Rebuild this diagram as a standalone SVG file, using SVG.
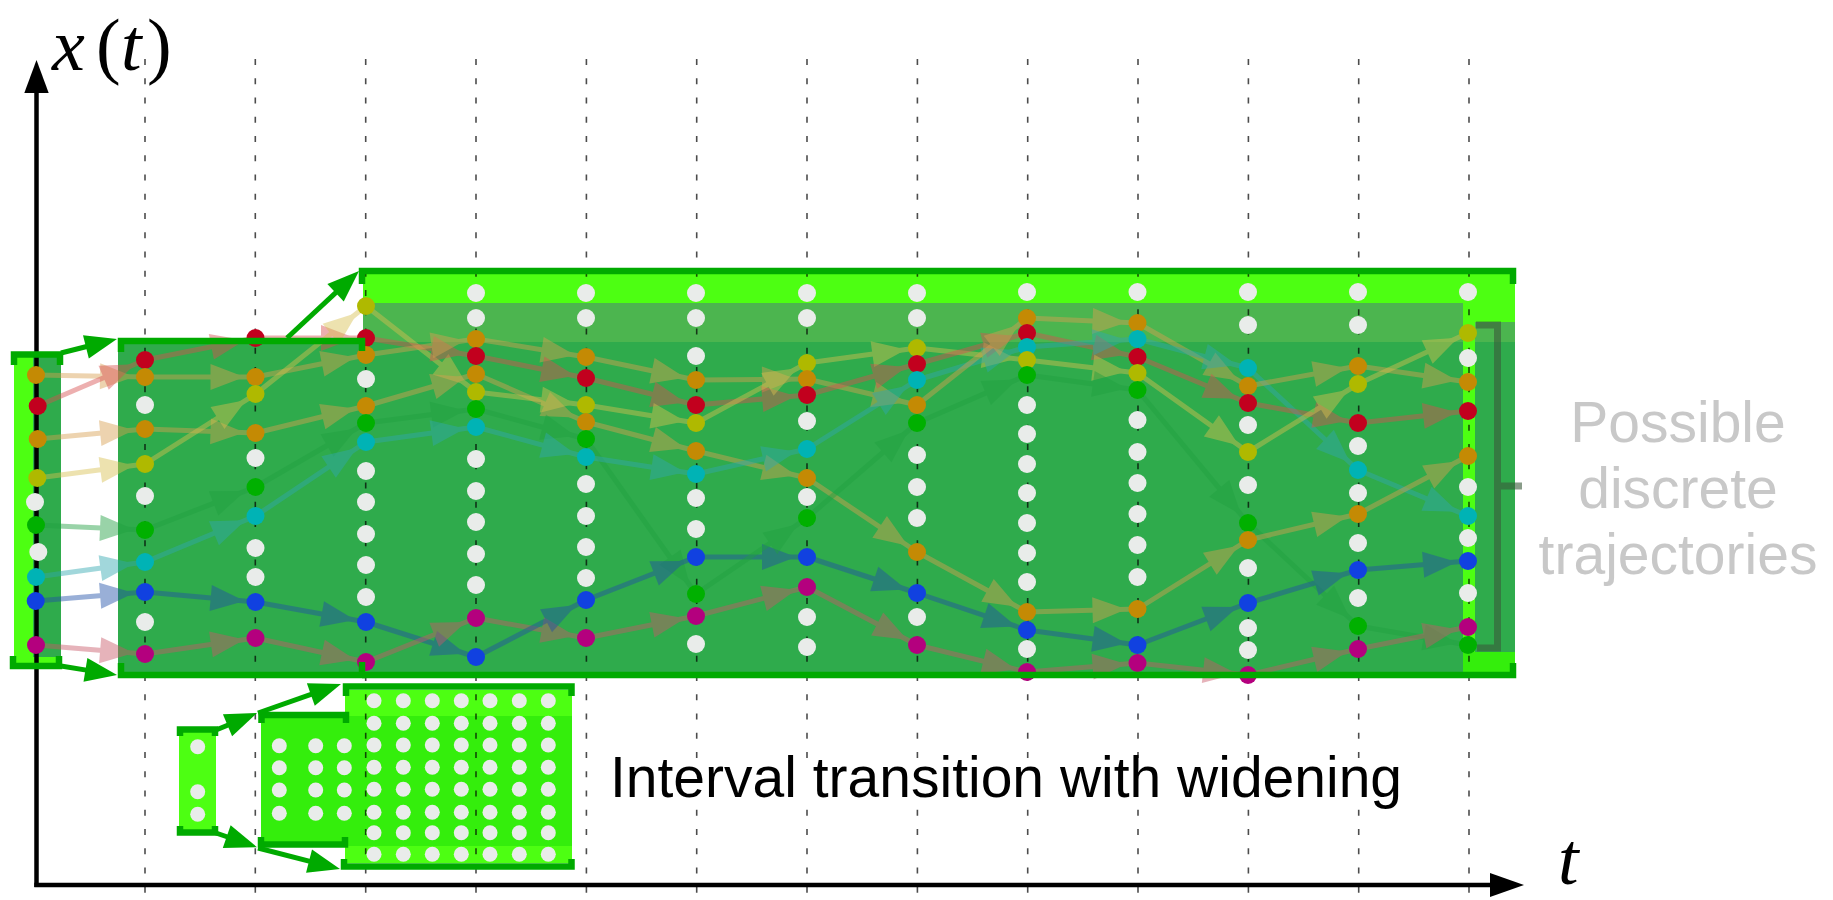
<svg xmlns="http://www.w3.org/2000/svg" width="1833" height="900" viewBox="0 0 1833 900">
<style>
.ln{stroke:#00aa00;fill:none;stroke-width:6.5;stroke-linejoin:miter;stroke-linecap:butt}
.grid line{stroke:#000;stroke-opacity:.7;stroke-width:1.6;stroke-dasharray:6 13.25}
.a{fill:none;stroke-width:5;opacity:.45}
.o{stroke:#d8a050;marker-end:url(#mo)}
.r{stroke:#d85050;marker-end:url(#mr)}
.y{stroke:#d8c050;marker-end:url(#my)}
.g{stroke:#20a040;marker-end:url(#mgr)}
.c{stroke:#30a8b0;marker-end:url(#mc)}
.b{stroke:#2050a8;marker-end:url(#mb)}
.m{stroke:#c85868;marker-end:url(#mm)}
.bx{stroke:#00aa00;stroke-width:5;fill:none;marker-end:url(#mg)}
.W{fill:#e9ecea}.O{fill:#c48a04}.R{fill:#c2001e}.Y{fill:#afb900}.G{fill:#00b000}.C{fill:#00b3b5}.B{fill:#1141e0}.M{fill:#b4007e}
.bright{fill:#4dff12}.mid{fill:#4cb54f}.dark{fill:#2fab4c}.lime{fill:#34ee0c}
.lab{font-family:"Liberation Sans",Arial,sans-serif;font-size:57px}
.math{font-family:"Liberation Serif","Times New Roman",serif;font-size:74px}
</style>
<defs>
<marker id="mo" markerUnits="userSpaceOnUse" markerWidth="34" markerHeight="26" refX="45" refY="13" orient="auto" overflow="visible"><path d="M0,0L34,13L0,26Z" fill="#d8a050"/></marker>
<marker id="mr" markerUnits="userSpaceOnUse" markerWidth="34" markerHeight="26" refX="45" refY="13" orient="auto" overflow="visible"><path d="M0,0L34,13L0,26Z" fill="#d85050"/></marker>
<marker id="my" markerUnits="userSpaceOnUse" markerWidth="34" markerHeight="26" refX="45" refY="13" orient="auto" overflow="visible"><path d="M0,0L34,13L0,26Z" fill="#d8c050"/></marker>
<marker id="mgr" markerUnits="userSpaceOnUse" markerWidth="34" markerHeight="26" refX="45" refY="13" orient="auto" overflow="visible"><path d="M0,0L34,13L0,26Z" fill="#20a040"/></marker>
<marker id="mc" markerUnits="userSpaceOnUse" markerWidth="34" markerHeight="26" refX="45" refY="13" orient="auto" overflow="visible"><path d="M0,0L34,13L0,26Z" fill="#30a8b0"/></marker>
<marker id="mb" markerUnits="userSpaceOnUse" markerWidth="34" markerHeight="26" refX="45" refY="13" orient="auto" overflow="visible"><path d="M0,0L34,13L0,26Z" fill="#2050a8"/></marker>
<marker id="mm" markerUnits="userSpaceOnUse" markerWidth="34" markerHeight="26" refX="45" refY="13" orient="auto" overflow="visible"><path d="M0,0L34,13L0,26Z" fill="#c85868"/></marker>
<marker id="mg" markerUnits="userSpaceOnUse" markerWidth="32" markerHeight="24" refX="4" refY="12" orient="auto" overflow="visible"><path d="M0,0L32,12L0,24Z" fill="#00aa00"/></marker>
</defs>
<rect width="1833" height="900" fill="#fff"/>

<!-- fills -->
<g id="interval-t0-fill">
<rect class="bright" x="14" y="357" width="47" height="306"/>
<rect class="dark" x="33" y="357" width="28" height="300"/>
</g>
<g id="interval-main-fill">
<rect class="bright" x="363" y="273" width="1152" height="399"/>
<rect class="mid" x="363" y="303" width="1100" height="39"/>
<rect class="dark" x="118" y="342" width="1345" height="330"/>
<rect class="mid" x="1475" y="322" width="40" height="20"/>
<rect class="dark" x="1475" y="342" width="40" height="310"/>
<rect class="lime" x="1463" y="652" width="52" height="20"/>
</g>
<g id="inset-fill">
<rect class="bright" x="179" y="731" width="37" height="100"/>
<rect class="bright" x="345" y="690" width="227" height="173"/>
<rect class="lime" x="261" y="716" width="311" height="130"/>
</g>

<!-- time grid -->
<g class="grid" id="grid">
<line x1="145" y1="59" x2="145" y2="900"/>
<line x1="255.3" y1="59" x2="255.3" y2="900"/>
<line x1="365.7" y1="59" x2="365.7" y2="900"/>
<line x1="476" y1="59" x2="476" y2="900"/>
<line x1="586.4" y1="59" x2="586.4" y2="900"/>
<line x1="696.7" y1="59" x2="696.7" y2="900"/>
<line x1="807" y1="59" x2="807" y2="900"/>
<line x1="917.4" y1="59" x2="917.4" y2="900"/>
<line x1="1027.7" y1="59" x2="1027.7" y2="900"/>
<line x1="1138" y1="59" x2="1138" y2="900"/>
<line x1="1248.4" y1="59" x2="1248.4" y2="900"/>
<line x1="1358.7" y1="59" x2="1358.7" y2="900"/>
<line x1="1469" y1="59" x2="1469" y2="900"/>
</g>

<!-- axes -->
<g id="axes">
<line x1="36.5" y1="887" x2="36.5" y2="90" stroke="#000" stroke-width="4.5"/>
<polygon points="36.5,60 24.3,93 48.7,93" fill="#000"/>
<line x1="34.3" y1="885" x2="1492" y2="885" stroke="#000" stroke-width="4.5"/>
<polygon points="1524,885 1490,873 1490,897" fill="#000"/>
<text class="math" y="70"><tspan x="52" font-style="italic">x</tspan><tspan x="96">(</tspan><tspan x="121" font-style="italic">t</tspan><tspan x="147">)</tspan></text>
<text class="math" x="1558" y="884" font-size="72" font-style="italic">t</text>
</g>

<g id="caption">
<rect x="604" y="759" width="804" height="47" fill="#fff"/>
<text class="lab" x="610" y="797" fill="#000">Interval transition with widening</text>
</g>

<!-- trajectory connectors -->
<g id="connectors">
<g id="trajectory-arrows">
<path class="a o" d="M36,375L145,377"/><path class="a r" d="M37.7,406L145,360"/><path class="a o" d="M37.7,439L145,429"/><path class="a y" d="M37.3,478L145,464"/><path class="a g" d="M36,525L145,530"/><path class="a c" d="M36,577L145,562"/><path class="a b" d="M35.7,601L145,592"/><path class="a m" d="M36,645L145,654"/>

<path class="a r" d="M145,360L255.5,338"/><path class="a o" d="M145,377L255.5,377"/><path class="a o" d="M145,429L255.5,433"/><path class="a y" d="M145,464L255.5,394"/><path class="a g" d="M145,530L255.5,487"/><path class="a c" d="M145,562L255.5,516"/><path class="a b" d="M145,592L255.5,602"/><path class="a m" d="M145,654L255.5,638"/>

<path class="a r" d="M255.5,338L366,338"/><path class="a o" d="M255.5,377L366,355"/><path class="a y" d="M255.5,394L366,306"/><path class="a o" d="M255.5,433L366,406"/><path class="a g" d="M255.5,487L366,423"/><path class="a c" d="M255.5,516L366,442"/><path class="a b" d="M255.5,602L366,622"/><path class="a m" d="M255.5,638L366,662"/>

<path class="a y" d="M366,306L476,392"/><path class="a r" d="M366,338L476,356"/><path class="a o" d="M366,355L476,339"/><path class="a o" d="M366,406L476,374"/><path class="a g" d="M366,423L476,409"/><path class="a c" d="M366,442L476,427"/><path class="a b" d="M366,622L476,657"/><path class="a m" d="M366,662L476,618"/>

<path class="a o" d="M476,339L586,357"/><path class="a r" d="M476,356L586,378"/><path class="a o" d="M476,374L586,422"/><path class="a y" d="M476,392L586,405"/><path class="a g" d="M476,409L586,439"/><path class="a c" d="M476,427L586,457"/><path class="a m" d="M476,618L586,638"/><path class="a b" d="M476,657L586,600"/>

<path class="a o" d="M586,357L696,380"/><path class="a r" d="M586,378L696,405"/><path class="a y" d="M586,405L696,423"/><path class="a o" d="M586,422L696,451"/><path class="a g" d="M586,439L696,594"/><path class="a c" d="M586,457L696,474"/><path class="a b" d="M586,600L696,557"/><path class="a m" d="M586,638L696,616"/>

<path class="a o" d="M696,380L807,379"/><path class="a r" d="M696,405L807,395"/><path class="a y" d="M696,423L807,363"/><path class="a o" d="M696,451L807,478"/><path class="a c" d="M696,474L807,449"/><path class="a b" d="M696,557L807,557"/><path class="a g" d="M696,594L807,518"/><path class="a m" d="M696,616L807,587"/>

<path class="a y" d="M807,363L917,348"/><path class="a o" d="M807,379L917,405"/><path class="a r" d="M807,395L917,364"/><path class="a c" d="M807,449L917,380"/><path class="a o" d="M807,478L917,552"/><path class="a g" d="M807,518L917,423"/><path class="a b" d="M807,557L917,593"/><path class="a m" d="M807,587L917,645"/>

<path class="a y" d="M917,348L1027,360"/><path class="a r" d="M917,364L1027,333"/><path class="a c" d="M917,380L1027,347"/><path class="a o" d="M917,405L1027,318"/><path class="a g" d="M917,423L1027,375"/><path class="a o" d="M917,552L1027,612"/><path class="a b" d="M917,593L1027,630"/><path class="a m" d="M917,645L1027,672"/>

<path class="a o" d="M1027,318L1137.5,323"/><path class="a r" d="M1027,333L1137.5,357"/><path class="a c" d="M1027,347L1137.5,339"/><path class="a y" d="M1027,360L1137.5,373"/><path class="a g" d="M1027,375L1137.5,390"/><path class="a o" d="M1027,612L1137.5,609"/><path class="a b" d="M1027,630L1137.5,645"/><path class="a m" d="M1027,672L1137.5,663"/>

<path class="a o" d="M1137.5,323L1248,386"/><path class="a c" d="M1137.5,339L1248,368"/><path class="a r" d="M1137.5,357L1248,403"/><path class="a y" d="M1137.5,373L1248,452"/><path class="a g" d="M1137.5,390L1248,523"/><path class="a o" d="M1137.5,609L1248,540"/><path class="a b" d="M1137.5,645L1248,603"/><path class="a m" d="M1137.5,663L1248,675"/>

<path class="a c" d="M1248,368L1358,470"/><path class="a o" d="M1248,386L1358,366"/><path class="a r" d="M1248,403L1358,423"/><path class="a y" d="M1248,452L1358,384"/><path class="a g" d="M1248,523L1358,626"/><path class="a o" d="M1248,540L1358,514"/><path class="a b" d="M1248,603L1358,570"/><path class="a m" d="M1248,675L1358,649"/>

<path class="a o" d="M1358,366L1468,382"/><path class="a y" d="M1358,384L1468,333"/><path class="a r" d="M1358,423L1468,411"/><path class="a c" d="M1358,470L1468,516"/><path class="a o" d="M1358,514L1468,456"/><path class="a b" d="M1358,570L1468,561"/><path class="a g" d="M1358,626L1468,645"/><path class="a m" d="M1358,649L1468,627"/>
</g>
</g>

<!-- discrete states per time step -->
<g id="states-t0"><circle class="O" cx="36" cy="375" r="9"/><circle class="R" cx="37.7" cy="406" r="9"/><circle class="O" cx="37.7" cy="439" r="9"/><circle class="Y" cx="37.3" cy="478" r="9"/><circle class="W" cx="35" cy="502" r="9"/><circle class="G" cx="36" cy="525" r="9"/><circle class="W" cx="38.3" cy="552" r="9"/><circle class="C" cx="36" cy="577" r="9"/><circle class="B" cx="35.7" cy="601" r="9"/><circle class="M" cx="36" cy="645" r="9"/></g>
<g id="states-t1"><circle class="R" cx="145" cy="360" r="9"/><circle class="O" cx="145" cy="377" r="9"/><circle class="W" cx="145" cy="405" r="9"/><circle class="O" cx="145" cy="429" r="9"/><circle class="Y" cx="145" cy="464" r="9"/><circle class="W" cx="145" cy="496" r="9"/><circle class="G" cx="145" cy="530" r="9"/><circle class="C" cx="145" cy="562" r="9"/><circle class="B" cx="145" cy="592" r="9"/><circle class="W" cx="145" cy="622" r="9"/><circle class="M" cx="145" cy="654" r="9"/></g>
<g id="states-t2"><circle class="R" cx="255.5" cy="338" r="9"/><circle class="O" cx="255.5" cy="377" r="9"/><circle class="Y" cx="255.5" cy="394" r="9"/><circle class="O" cx="255.5" cy="433" r="9"/><circle class="W" cx="255.5" cy="458" r="9"/><circle class="G" cx="255.5" cy="487" r="9"/><circle class="C" cx="255.5" cy="516" r="9"/><circle class="W" cx="255.5" cy="548" r="9"/><circle class="W" cx="255.5" cy="577" r="9"/><circle class="B" cx="255.5" cy="602" r="9"/><circle class="M" cx="255.5" cy="638" r="9"/></g>
<g id="states-t3"><circle class="Y" cx="366" cy="306" r="9"/><circle class="R" cx="366" cy="338" r="9"/><circle class="O" cx="366" cy="355" r="9"/><circle class="W" cx="366" cy="379" r="9"/><circle class="O" cx="366" cy="406" r="9"/><circle class="G" cx="366" cy="423" r="9"/><circle class="C" cx="366" cy="442" r="9"/><circle class="W" cx="366" cy="471" r="9"/><circle class="W" cx="366" cy="502" r="9"/><circle class="W" cx="366" cy="534" r="9"/><circle class="W" cx="366" cy="565" r="9"/><circle class="W" cx="366" cy="597" r="9"/><circle class="B" cx="366" cy="622" r="9"/><circle class="M" cx="366" cy="662" r="9"/></g>
<g id="states-t4"><circle class="W" cx="476" cy="293" r="9"/><circle class="W" cx="476" cy="318" r="9"/><circle class="O" cx="476" cy="339" r="9"/><circle class="R" cx="476" cy="356" r="9"/><circle class="O" cx="476" cy="374" r="9"/><circle class="Y" cx="476" cy="392" r="9"/><circle class="G" cx="476" cy="409" r="9"/><circle class="C" cx="476" cy="427" r="9"/><circle class="W" cx="476" cy="459" r="9"/><circle class="W" cx="476" cy="491" r="9"/><circle class="W" cx="476" cy="522" r="9"/><circle class="W" cx="476" cy="554" r="9"/><circle class="W" cx="476" cy="585" r="9"/><circle class="M" cx="476" cy="618" r="9"/><circle class="B" cx="476" cy="657" r="9"/></g>
<g id="states-t5"><circle class="W" cx="586" cy="293" r="9"/><circle class="W" cx="586" cy="318" r="9"/><circle class="O" cx="586" cy="357" r="9"/><circle class="R" cx="586" cy="378" r="9"/><circle class="Y" cx="586" cy="405" r="9"/><circle class="O" cx="586" cy="422" r="9"/><circle class="G" cx="586" cy="439" r="9"/><circle class="C" cx="586" cy="457" r="9"/><circle class="W" cx="586" cy="484" r="9"/><circle class="W" cx="586" cy="516" r="9"/><circle class="W" cx="586" cy="547" r="9"/><circle class="W" cx="586" cy="578" r="9"/><circle class="B" cx="586" cy="600" r="9"/><circle class="M" cx="586" cy="638" r="9"/></g>
<g id="states-t6"><circle class="W" cx="696" cy="293" r="9"/><circle class="W" cx="696" cy="318" r="9"/><circle class="W" cx="696" cy="356" r="9"/><circle class="O" cx="696" cy="380" r="9"/><circle class="R" cx="696" cy="405" r="9"/><circle class="Y" cx="696" cy="423" r="9"/><circle class="O" cx="696" cy="451" r="9"/><circle class="C" cx="696" cy="474" r="9"/><circle class="W" cx="696" cy="498" r="9"/><circle class="W" cx="696" cy="529" r="9"/><circle class="B" cx="696" cy="557" r="9"/><circle class="G" cx="696" cy="594" r="9"/><circle class="M" cx="696" cy="616" r="9"/><circle class="W" cx="696" cy="644" r="9"/></g>
<g id="states-t7"><circle class="W" cx="807" cy="293" r="9"/><circle class="W" cx="807" cy="318" r="9"/><circle class="Y" cx="807" cy="363" r="9"/><circle class="O" cx="807" cy="379" r="9"/><circle class="R" cx="807" cy="395" r="9"/><circle class="W" cx="807" cy="421" r="9"/><circle class="C" cx="807" cy="449" r="9"/><circle class="O" cx="807" cy="478" r="9"/><circle class="W" cx="807" cy="497" r="9"/><circle class="G" cx="807" cy="518" r="9"/><circle class="B" cx="807" cy="557" r="9"/><circle class="M" cx="807" cy="587" r="9"/><circle class="W" cx="807" cy="617" r="9"/><circle class="W" cx="807" cy="647" r="9"/></g>
<g id="states-t8"><circle class="W" cx="917" cy="293" r="9"/><circle class="W" cx="917" cy="318" r="9"/><circle class="Y" cx="917" cy="348" r="9"/><circle class="R" cx="917" cy="364" r="9"/><circle class="C" cx="917" cy="380" r="9"/><circle class="O" cx="917" cy="405" r="9"/><circle class="G" cx="917" cy="423" r="9"/><circle class="W" cx="917" cy="455" r="9"/><circle class="W" cx="917" cy="487" r="9"/><circle class="W" cx="917" cy="518" r="9"/><circle class="O" cx="917" cy="552" r="9"/><circle class="B" cx="917" cy="593" r="9"/><circle class="W" cx="917" cy="617" r="9"/><circle class="M" cx="917" cy="645" r="9"/></g>
<g id="states-t9"><circle class="W" cx="1027" cy="292" r="9"/><circle class="O" cx="1027" cy="318" r="9"/><circle class="R" cx="1027" cy="333" r="9"/><circle class="C" cx="1027" cy="347" r="9"/><circle class="Y" cx="1027" cy="360" r="9"/><circle class="G" cx="1027" cy="375" r="9"/><circle class="W" cx="1027" cy="405" r="9"/><circle class="W" cx="1027" cy="434" r="9"/><circle class="W" cx="1027" cy="464" r="9"/><circle class="W" cx="1027" cy="493" r="9"/><circle class="W" cx="1027" cy="523" r="9"/><circle class="W" cx="1027" cy="553" r="9"/><circle class="W" cx="1027" cy="582" r="9"/><circle class="O" cx="1027" cy="612" r="9"/><circle class="B" cx="1027" cy="630" r="9"/><circle class="W" cx="1027" cy="649" r="9"/><circle class="M" cx="1027" cy="672" r="9"/></g>
<g id="states-t10"><circle class="W" cx="1137.5" cy="292" r="9"/><circle class="O" cx="1137.5" cy="323" r="9"/><circle class="C" cx="1137.5" cy="339" r="9"/><circle class="R" cx="1137.5" cy="357" r="9"/><circle class="Y" cx="1137.5" cy="373" r="9"/><circle class="G" cx="1137.5" cy="390" r="9"/><circle class="W" cx="1137.5" cy="420" r="9"/><circle class="W" cx="1137.5" cy="452" r="9"/><circle class="W" cx="1137.5" cy="483" r="9"/><circle class="W" cx="1137.5" cy="514" r="9"/><circle class="W" cx="1137.5" cy="545" r="9"/><circle class="W" cx="1137.5" cy="577" r="9"/><circle class="O" cx="1137.5" cy="609" r="9"/><circle class="B" cx="1137.5" cy="645" r="9"/><circle class="M" cx="1137.5" cy="663" r="9"/></g>
<g id="states-t11"><circle class="W" cx="1248" cy="292" r="9"/><circle class="W" cx="1248" cy="325" r="9"/><circle class="C" cx="1248" cy="368" r="9"/><circle class="O" cx="1248" cy="386" r="9"/><circle class="R" cx="1248" cy="403" r="9"/><circle class="W" cx="1248" cy="425" r="9"/><circle class="Y" cx="1248" cy="452" r="9"/><circle class="W" cx="1248" cy="485" r="9"/><circle class="G" cx="1248" cy="523" r="9"/><circle class="O" cx="1248" cy="540" r="9"/><circle class="W" cx="1248" cy="568" r="9"/><circle class="B" cx="1248" cy="603" r="9"/><circle class="W" cx="1248" cy="628" r="9"/><circle class="W" cx="1248" cy="650" r="9"/><circle class="M" cx="1248" cy="675" r="9"/></g>
<g id="states-t12"><circle class="W" cx="1358" cy="292" r="9"/><circle class="W" cx="1358" cy="325" r="9"/><circle class="O" cx="1358" cy="366" r="9"/><circle class="Y" cx="1358" cy="384" r="9"/><circle class="R" cx="1358" cy="423" r="9"/><circle class="W" cx="1358" cy="446" r="9"/><circle class="C" cx="1358" cy="470" r="9"/><circle class="W" cx="1358" cy="493" r="9"/><circle class="O" cx="1358" cy="514" r="9"/><circle class="W" cx="1358" cy="543" r="9"/><circle class="B" cx="1358" cy="570" r="9"/><circle class="W" cx="1358" cy="598" r="9"/><circle class="G" cx="1358" cy="626" r="9"/><circle class="M" cx="1358" cy="649" r="9"/></g>
<g id="states-t13"><circle class="W" cx="1468" cy="292" r="9"/><circle class="Y" cx="1468" cy="333" r="9"/><circle class="W" cx="1468" cy="358" r="9"/><circle class="O" cx="1468" cy="382" r="9"/><circle class="R" cx="1468" cy="411" r="9"/><circle class="O" cx="1468" cy="456" r="9"/><circle class="W" cx="1468" cy="487" r="9"/><circle class="C" cx="1468" cy="516" r="9"/><circle class="W" cx="1468" cy="538" r="9"/><circle class="B" cx="1468" cy="561" r="9"/><circle class="W" cx="1468" cy="593" r="9"/><circle class="M" cx="1468" cy="627" r="9"/><circle class="G" cx="1468" cy="645" r="9"/></g>

<!-- interval brackets -->
<g id="interval-t0"><path class="ln" d="M14,365V354.5H60V365"/><path class="ln" d="M13,656V666H59V656"/></g>
<g id="interval-t1"><path class="ln" d="M121,352V341H362V351"/><path class="ln" d="M121,663V675H362V662"/></g>
<g id="interval-main"><path class="ln" d="M362,284V271H1513V284"/><path class="ln" d="M362,675H1513V663"/></g>

<g id="inset">
<path class="ln" d="M180,736V729.5H215V736"/><path class="ln" d="M180,826V832.5H215V826"/>
<path class="ln" d="M261.5,723V715H346V723"/><path class="ln" d="M261,837V844.5H345V837"/>
<path class="ln" d="M346,696V686.5H571.5V696"/><path class="ln" d="M344,859V866.5H571.5V859"/>
<g class="W">
<circle cx="197.7" cy="746.7" r="7.5"/><circle cx="197.7" cy="791.7" r="7.5"/><circle cx="197.7" cy="814.3" r="7.5"/>
<circle cx="279.3" cy="745.7" r="7.5"/><circle cx="315.7" cy="745.7" r="7.5"/><circle cx="344.3" cy="745.7" r="7.5"/>
<circle cx="279.3" cy="767.7" r="7.5"/><circle cx="315.7" cy="767.7" r="7.5"/><circle cx="344.3" cy="767.7" r="7.5"/>
<circle cx="279.3" cy="790" r="7.5"/><circle cx="315.7" cy="790" r="7.5"/><circle cx="344.3" cy="790" r="7.5"/>
<circle cx="279.3" cy="813.3" r="7.5"/><circle cx="315.7" cy="813.3" r="7.5"/><circle cx="344.3" cy="813.3" r="7.5"/>
</g>
<g class="W" id="inset-grid">
<circle cx="374" cy="700.7" r="7.5"/><circle cx="403.3" cy="700.7" r="7.5"/><circle cx="432.3" cy="700.7" r="7.5"/><circle cx="461.3" cy="700.7" r="7.5"/><circle cx="490" cy="700.7" r="7.5"/><circle cx="519.3" cy="700.7" r="7.5"/><circle cx="548.3" cy="700.7" r="7.5"/>
<circle cx="374" cy="723.3" r="7.5"/><circle cx="403.3" cy="723.3" r="7.5"/><circle cx="432.3" cy="723.3" r="7.5"/><circle cx="461.3" cy="723.3" r="7.5"/><circle cx="490" cy="723.3" r="7.5"/><circle cx="519.3" cy="723.3" r="7.5"/><circle cx="548.3" cy="723.3" r="7.5"/>
<circle cx="374" cy="745" r="7.5"/><circle cx="403.3" cy="745" r="7.5"/><circle cx="432.3" cy="745" r="7.5"/><circle cx="461.3" cy="745" r="7.5"/><circle cx="490" cy="745" r="7.5"/><circle cx="519.3" cy="745" r="7.5"/><circle cx="548.3" cy="745" r="7.5"/>
<circle cx="374" cy="767.3" r="7.5"/><circle cx="403.3" cy="767.3" r="7.5"/><circle cx="432.3" cy="767.3" r="7.5"/><circle cx="461.3" cy="767.3" r="7.5"/><circle cx="490" cy="767.3" r="7.5"/><circle cx="519.3" cy="767.3" r="7.5"/><circle cx="548.3" cy="767.3" r="7.5"/>
<circle cx="374" cy="789.3" r="7.5"/><circle cx="403.3" cy="789.3" r="7.5"/><circle cx="432.3" cy="789.3" r="7.5"/><circle cx="461.3" cy="789.3" r="7.5"/><circle cx="490" cy="789.3" r="7.5"/><circle cx="519.3" cy="789.3" r="7.5"/><circle cx="548.3" cy="789.3" r="7.5"/>
<circle cx="374" cy="812.3" r="7.5"/><circle cx="403.3" cy="812.3" r="7.5"/><circle cx="432.3" cy="812.3" r="7.5"/><circle cx="461.3" cy="812.3" r="7.5"/><circle cx="490" cy="812.3" r="7.5"/><circle cx="519.3" cy="812.3" r="7.5"/><circle cx="548.3" cy="812.3" r="7.5"/>
<circle cx="374" cy="832.7" r="7.5"/><circle cx="403.3" cy="832.7" r="7.5"/><circle cx="432.3" cy="832.7" r="7.5"/><circle cx="461.3" cy="832.7" r="7.5"/><circle cx="490" cy="832.7" r="7.5"/><circle cx="519.3" cy="832.7" r="7.5"/><circle cx="548.3" cy="832.7" r="7.5"/>
<circle cx="374" cy="854.3" r="7.5"/><circle cx="403.3" cy="854.3" r="7.5"/><circle cx="432.3" cy="854.3" r="7.5"/><circle cx="461.3" cy="854.3" r="7.5"/><circle cx="490" cy="854.3" r="7.5"/><circle cx="519.3" cy="854.3" r="7.5"/><circle cx="548.3" cy="854.3" r="7.5"/>
</g>
</g>

<g id="transition-arrows">
<path class="bx" d="M61,353L89.8,345.8"/>
<path class="bx" d="M61,666L89.4,670.6"/>
<path class="bx" d="M287,338L338.5,290.1"/>
<path class="bx" d="M216,730L231.2,723.7"/>
<path class="bx" d="M216,833L230.5,838"/>
<path class="bx" d="M258,713L314.6,693.2"/>
<path class="bx" d="M258,848L312.9,862.1"/>
</g>

<g id="trajectory-brace">
<path d="M1476,325H1497.5V648H1477M1497.5,486H1522" fill="none" stroke="#3a5a3a" stroke-opacity=".6" stroke-width="7"/>
<text class="lab" fill="#c8c8c8" text-anchor="middle"><tspan x="1678" y="442">Possible</tspan><tspan x="1678" y="508">discrete</tspan><tspan x="1678" y="574">trajectories</tspan></text>
</g>
</svg>
